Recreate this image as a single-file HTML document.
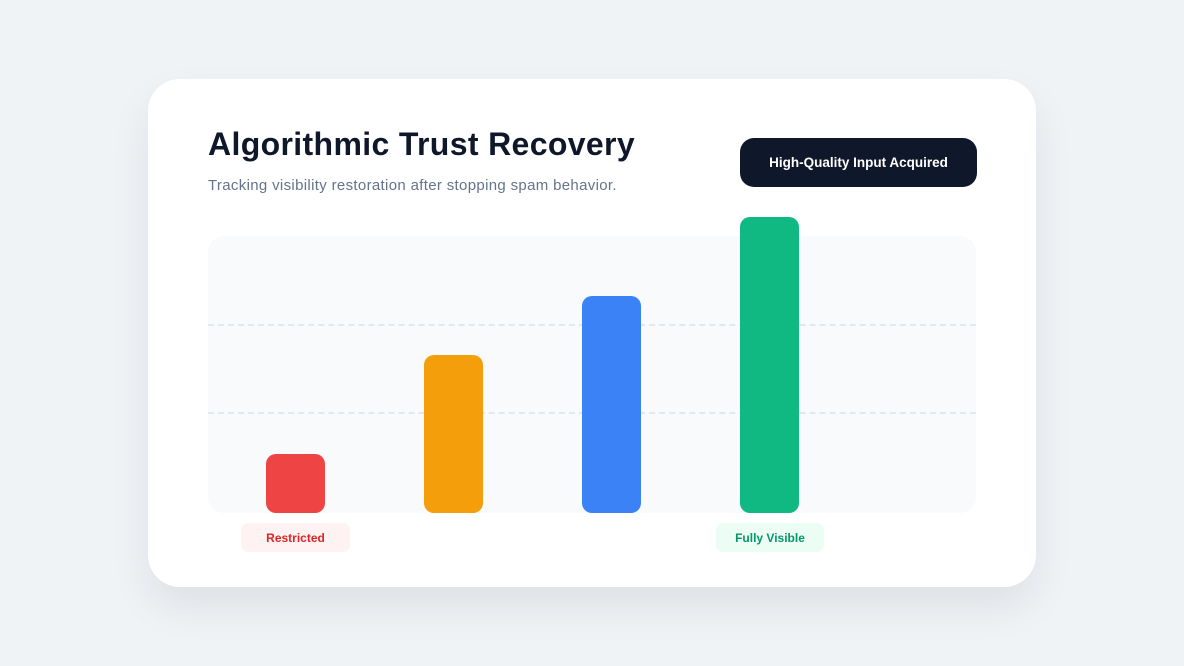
<!DOCTYPE html>
<html><head><style>
*{margin:0;padding:0;box-sizing:border-box}
body{width:1184px;height:666px;background:#f0f3f6;font-family:"Liberation Sans",sans-serif;position:relative;overflow:hidden}
.card{position:absolute;left:148px;top:79px;width:888px;height:508px;background:#fff;border-radius:32px;box-shadow:0 20px 40px rgba(15,23,42,0.08)}
.abs{position:absolute}
h1{position:absolute;left:208px;top:126px;font-size:32px;font-weight:bold;color:#0f172a;letter-spacing:0.35px;white-space:nowrap}
.sub{left:208px;top:177px;font-size:15px;color:#64748b;white-space:nowrap;letter-spacing:0.33px}
.badge{left:740px;top:138px;width:237px;height:49px;background:#0f172a;border-radius:14px;color:#fff;font-size:13.5px;font-weight:bold;display:flex;align-items:center;justify-content:center}
.chart{left:208px;top:236px;width:768px;height:277px;background:#f8fafc;border-radius:16px}
.dash{left:208px;width:768px;border-top:2px dashed #e2e8f0;height:0}
.bar{width:59px;border-radius:10px}
.lab{height:29px;border-radius:7px;font-size:12px;font-weight:bold;display:flex;align-items:center;justify-content:center}
</style></head><body>
<div class="card"></div>
<h1>Algorithmic Trust Recovery</h1>
<div class="abs sub">Tracking visibility restoration after stopping spam behavior.</div>
<div class="abs badge">High-Quality Input Acquired</div>
<div class="abs chart"></div>
<div class="abs dash" style="top:324px"></div>
<div class="abs dash" style="top:412px"></div>
<div class="abs bar" style="left:266px;top:454px;height:59px;background:#ef4444"></div>
<div class="abs bar" style="left:424px;top:355px;height:158px;background:#f59e0b"></div>
<div class="abs bar" style="left:582px;top:296px;height:217px;background:#3b82f6"></div>
<div class="abs bar" style="left:740px;top:217px;height:296px;background:#10b981"></div>
<div class="abs lab" style="left:241px;top:523px;width:109px;background:#fef2f2;color:#dc2626">Restricted</div>
<div class="abs lab" style="left:716px;top:523px;width:108px;background:#ecfdf5;color:#059669">Fully Visible</div>
</body></html>
